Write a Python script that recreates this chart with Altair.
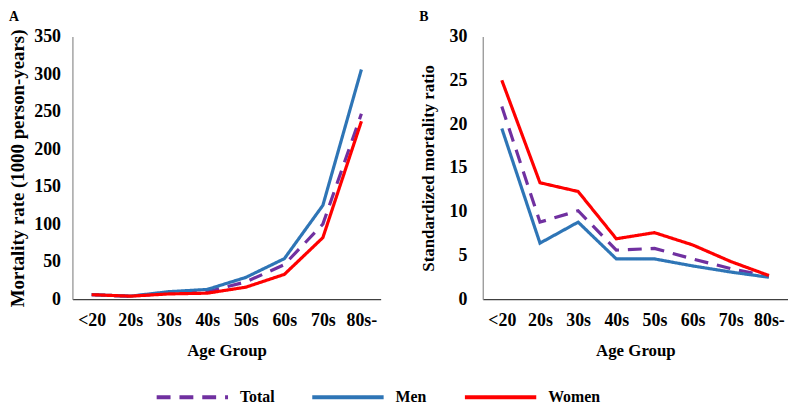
import altair as alt
import pandas as pd

ages = ["<20", "20s", "30s", "40s", "50s", "60s", "70s", "80s-"]
series = ["Total", "Men", "Women"]

rate_total = [6, 4, 8, 10, 23, 46, 100, 247]
rate_men = [6, 4, 10, 13, 29, 54, 125, 306]
rate_women = [6, 4, 7, 8, 16, 33, 82, 237]

smr_total = [22.0, 8.8, 10.1, 5.6, 5.8, 4.6, 3.5, 2.6]
smr_men = [19.5, 6.4, 8.8, 4.6, 4.6, 3.8, 3.1, 2.5]
smr_women = [25.0, 13.3, 12.3, 6.9, 7.6, 6.2, 4.3, 2.7]

colors = ["#7030A0", "#2E75B6", "#FF0000"]
dashes = [[14, 9], [1, 0], [1, 0]]

FONT = "Liberation Serif"


def long_df(tot, men, wom):
    rows = []
    for s, vals in zip(series, [tot, men, wom]):
        for a, v in zip(ages, vals):
            rows.append({"age": a, "series": s, "value": v})
    return pd.DataFrame(rows)


df_a = long_df(rate_total, rate_men, rate_women)
df_b = long_df(smr_total, smr_men, smr_women)

color_enc = alt.Color("series:N", scale=alt.Scale(domain=series, range=colors), title=None)
dash_enc = alt.StrokeDash("series:N", scale=alt.Scale(domain=series, range=dashes), title=None)


def panel(df, letter, ytitle, ymax, ystep, w, ylab_pad, ytitle_pad, ytitle_size):
    x = alt.X(
        "age:N", sort=ages,
        scale=alt.Scale(type="point", padding=0.5),
        axis=alt.Axis(title="Age Group", labelAngle=0, ticks=False, tickSize=0,
                      domainColor="#404040", domainWidth=1.2,
                      labelPadding=13, titlePadding=13),
    )
    y = alt.Y(
        "value:Q",
        scale=alt.Scale(domain=[0, ymax], nice=False),
        axis=alt.Axis(title=ytitle, values=list(range(0, ymax + 1, ystep)),
                      grid=False, ticks=False, tickSize=0,
                      domainColor="#8c8c8c", domainWidth=1.2,
                      titleFontSize=ytitle_size,
                      labelPadding=ylab_pad, titlePadding=ytitle_pad),
    )
    return (
        alt.Chart(df)
        .mark_line(strokeWidth=3.2)
        .encode(x=x, y=y, color=color_enc, strokeDash=dash_enc,
                order=alt.Order("series:N"))
        .properties(
            width=w, height=265,
            title=alt.TitleParams(letter, anchor="start", frame="bounds",
                                  fontSize=14, font=FONT, fontWeight="bold",
                                  offset=4),
        )
    )


a = panel(df_a, "A", "Mortality rate (1000 person-years)", 350, 50, 311, 12, 6, 19)
b = panel(df_b, "B", "Standardized mortality ratio", 30, 5, 308, 16, 12, 17)

chart = (
    alt.hconcat(a, b, spacing=39)
    .properties(padding=0)
    .configure_view(stroke=None)
    .configure_axis(labelFont=FONT, labelFontSize=18, labelFontWeight="bold",
                    labelColor="#000", titleFont=FONT, titleFontSize=17,
                    titleFontWeight="bold", titleColor="#000")
    .configure_legend(orient="none", legendX=83, legendY=326,
                      direction="horizontal", symbolType="stroke",
                      symbolSize=5184, symbolStrokeWidth=4,
                      labelFont=FONT, labelFontSize=16, labelFontWeight="bold",
                      labelColor="#000", labelOffset=10, columnPadding=30)
)

chart.save("out.html", embed_options={"renderer": "svg", "actions": False})
